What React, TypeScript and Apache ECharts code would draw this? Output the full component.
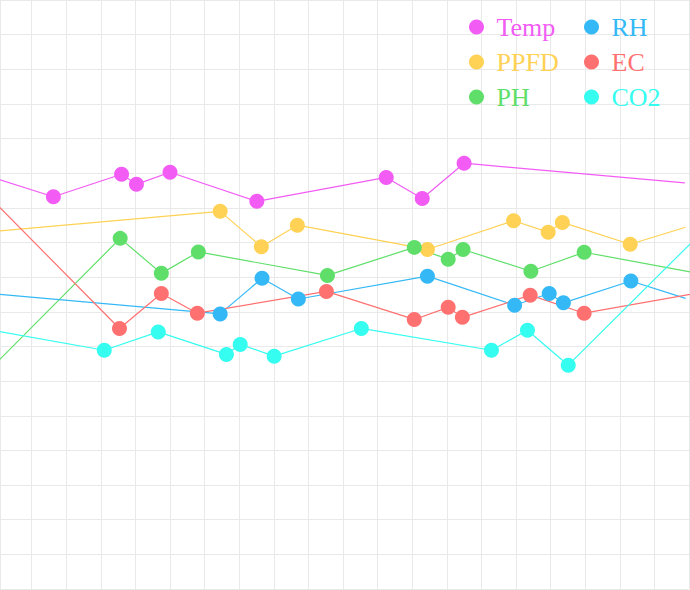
import React, { useEffect, useRef } from "react";
import * as echarts from "echarts";

type Pt = [number, number];

const SERIES_NAMES = ["Temp", "PPFD", "PH", "RH", "EC", "CO2"];
const COLORS = ["#f25cf5", "#ffd154", "#5fdf69", "#34b9f6", "#ff7171", "#35fdf0"];

const TEMP: Pt[] = [[-1, 12.15], [1.63, 11.32], [3.6, 11.97], [4.03, 11.68], [5.0, 12.03], [7.51, 11.19], [11.25, 11.88], [12.29, 11.27], [13.5, 12.29], [19.88, 11.72]];
const PPFD: Pt[] = [[-1, 10.24], [6.45, 10.9], [7.64, 9.88], [8.68, 10.5], [12.44, 9.8], [14.93, 10.63], [15.93, 10.3], [16.34, 10.58], [18.3, 9.95], [19.9, 10.44]];
const PH: Pt[] = [[-1, 5.54], [3.56, 10.12], [4.75, 9.11], [5.82, 9.73], [9.55, 9.05], [12.06, 9.86], [13.04, 9.52], [13.47, 9.8], [15.43, 9.17], [16.97, 9.72], [21, 8.97]];
const RH: Pt[] = [[-1, 8.6], [6.45, 7.94], [7.66, 8.97], [8.71, 8.37], [12.44, 9.03], [14.96, 8.19], [15.96, 8.53], [16.37, 8.26], [18.32, 8.89], [19.9, 8.39]];
const EC: Pt[] = [[-1, 12.1], [3.54, 7.52], [4.75, 8.53], [5.79, 7.96], [9.52, 8.59], [12.06, 7.78], [13.04, 8.13], [13.45, 7.84], [15.41, 8.48], [16.97, 7.96], [21, 8.68]];
const CO2: Pt[] = [[-1, 7.62], [3.1, 6.89], [4.66, 7.42], [6.63, 6.77], [7.03, 7.06], [8.01, 6.72], [10.53, 7.52], [14.29, 6.89], [15.33, 7.47], [16.51, 6.46], [21, 10.92]];

const SERIES_DATA: Pt[][] = [TEMP, PPFD, PH, RH, EC, CO2];

const X_MIN = 0;
const X_MAX = 20;
const Y_MIN = 0;
const Y_MAX = 17;

// the chart canvas starts 3px left of the page so the first column is narrower
const SHIFT = 3;

export default function App() {
  const ref = useRef<HTMLDivElement>(null);

  useEffect(() => {
    if (!ref.current) return;
    const chart = echarts.init(ref.current, null, { renderer: "svg" });
    const grid = "#e9e9e9";
    const font = "Liberation Serif";

    const legendItem = (name: string) => {
      const i = SERIES_NAMES.indexOf(name);
      return { name, textStyle: { color: COLORS[i] } };
    };
    const legendBase = {
      orient: "vertical",
      top: 9,
      itemWidth: 30,
      itemHeight: 15,
      itemGap: 9,
      icon: "circle",
      selectedMode: false,
      textStyle: { fontFamily: font, fontSize: 26 },
    };

    chart.setOption({
      animation: false,
      backgroundColor: "#ffffff",
      grid: { left: 0, right: 1, top: 0, bottom: 1, containLabel: false },
      xAxis: {
        type: "value",
        min: X_MIN,
        max: X_MAX,
        interval: 1,
        axisLine: { show: false },
        axisTick: { show: false },
        axisLabel: { show: false },
        splitLine: { show: true, lineStyle: { color: grid, width: 1 } },
      },
      yAxis: {
        type: "value",
        min: Y_MIN,
        max: Y_MAX,
        interval: 1,
        axisLine: { show: false },
        axisTick: { show: false },
        axisLabel: { show: false },
        splitLine: { show: true, lineStyle: { color: grid, width: 1 } },
      },
      graphic: [
        {
          type: "line",
          silent: true,
          z: -1,
          shape: { x1: SHIFT + 0.5, y1: 0, x2: SHIFT + 0.5, y2: 590 },
          style: { stroke: grid, lineWidth: 1 },
        },
      ],
      legend: [
        { ...legendBase, left: 464 + SHIFT, data: ["Temp", "PPFD", "PH"].map(legendItem) },
        { ...legendBase, left: 579 + SHIFT, data: ["RH", "EC", "CO2"].map(legendItem) },
      ],
      series: SERIES_NAMES.map((name, si) => {
        const arr = SERIES_DATA[si];
        return {
          name,
          type: "line",
          clip: true,
          symbol: "circle",
          symbolSize: 15,
          showAllSymbol: true,
          color: COLORS[si],
          itemStyle: { color: COLORS[si] },
          lineStyle: { color: COLORS[si], width: 1.2 },
          emphasis: { disabled: true },
          data: arr.map((p, i) =>
            i === 0 || i === arr.length - 1 ? { value: p, symbol: "none" } : { value: p }
          ),
        };
      }),
    });

    return () => {
      chart.dispose();
    };
  }, []);

  return (
    <div
      ref={ref}
      style={{ position: "fixed", left: -SHIFT, top: 0, width: 690 + SHIFT, height: 590, background: "#fff" }}
    />
  );
}
